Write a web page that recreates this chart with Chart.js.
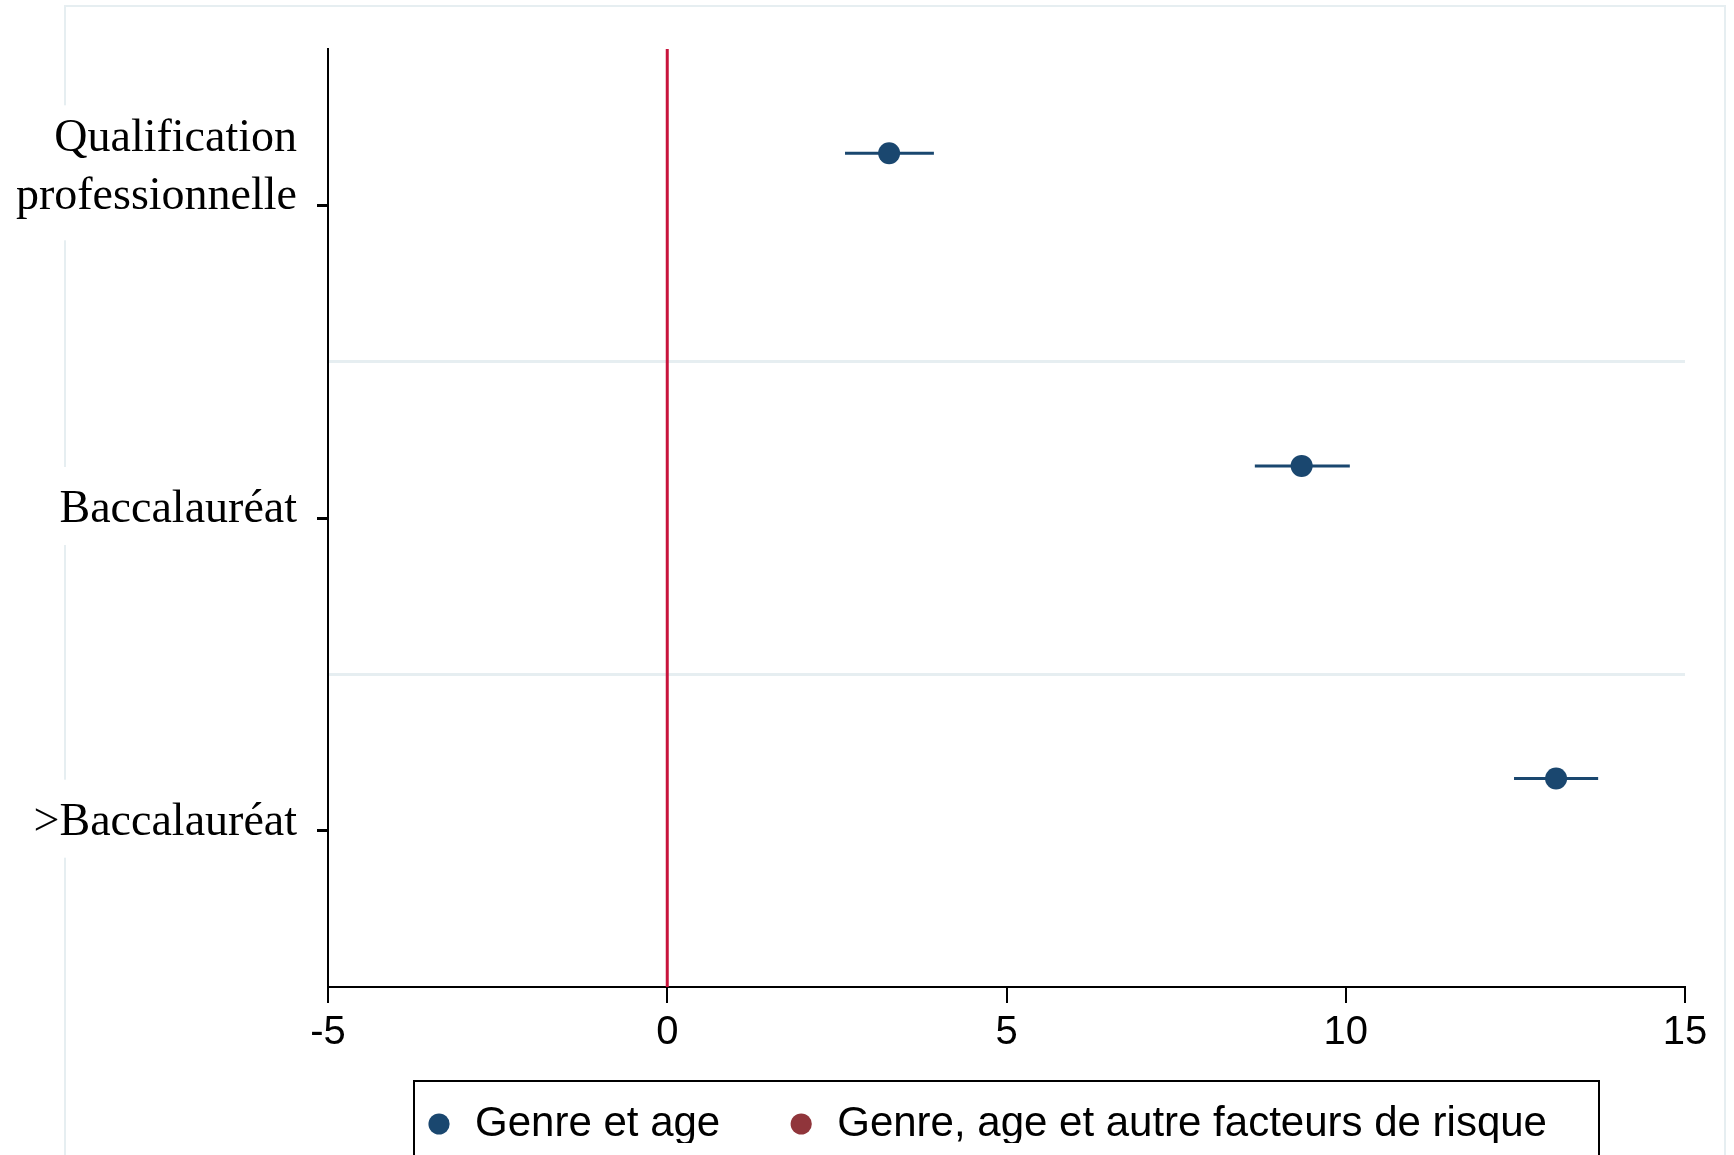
<!DOCTYPE html>
<html>
<head>
<meta charset="utf-8">
<script src="https://cdn.jsdelivr.net/npm/chart.js@4.4.0/dist/chart.umd.min.js"></script>
<style>
    html, body { margin: 0; padding: 0; background: #fff; }
    #chart { display: block; }
</style>
</head>
<body>
<canvas id="chart" width="1734" height="1155"></canvas>
<script>
// categories, top to bottom (arrays give multi-line labels)
const categories = [['Qualification', 'professionnelle', ''], ['Baccalauréat'], ['>Baccalauréat']];
const seriesNames = ['Genre et age', 'Genre, age et autre facteurs de risque'];

// model 1: genre et age
const estGenreAge = [3.27, 9.35, 13.10];
const lowGenreAge = [2.62, 8.66, 12.48];
const highGenreAge = [3.93, 10.06, 13.72];

// model 2: nothing plotted in the figure, only listed in the legend
const estAutres = [];

const xTicks = [-5, 0, 5, 10, 15];
const yTicks = [1, 1.5, 2, 2.5, 3];
const refValue = 0;
const modelShift = [-1 / 6, 1 / 6];

const navy = '#1a476f';
const maroon = '#90353b';
const crimson = '#c8143c';
const frameColor = '#e6eef1';

const datasets = [];

// zero reference line
datasets.push({
    label: 'ref',
    data: [{ x: refValue, y: 0.5 }, { x: refValue, y: 3.5 }],
    showLine: true,
    borderColor: crimson,
    borderWidth: 3,
    pointRadius: 0,
    order: 3
});

// confidence intervals
estGenreAge.forEach((v, i) => {
    const y = i + 1 + modelShift[0];
    datasets.push({
        label: 'ci' + i,
        data: [{ x: lowGenreAge[i], y }, { x: highGenreAge[i], y }],
        showLine: true,
        borderColor: navy,
        borderWidth: 3,
        pointRadius: 0,
        order: 2
    });
});

datasets.push({
    label: seriesNames[0],
    data: estGenreAge.map((v, i) => ({ x: v, y: i + 1 + modelShift[0] })),
    backgroundColor: navy,
    borderColor: navy,
    borderWidth: 0,
    pointRadius: 11,
    pointStyle: 'circle',
    order: 1
});

datasets.push({
    label: seriesNames[1],
    data: estAutres.map((v, i) => ({ x: v, y: i + 1 + modelShift[1] })),
    backgroundColor: maroon,
    borderColor: maroon,
    borderWidth: 0,
    pointRadius: 11,
    pointStyle: 'circle',
    order: 1
});

const isCat = (v) => Number.isInteger(v);

const frames = {
    id: 'frames',
    afterLayout(chart) {
        // nudge the legend row as in the original
        chart.legend.left -= 21;
        chart.legend.right -= 21;
        chart.legend.top -= 12;
        chart.legend.bottom -= 12;
    },
    beforeDraw(chart) {
        const ctx = chart.ctx;
        const y = chart.scales.y;
        ctx.save();
        ctx.strokeStyle = frameColor;
        ctx.lineWidth = 2;
        ctx.strokeRect(65, 6, 1660, 1300);
        // white gaps in the frame behind the category labels
        ctx.fillStyle = '#fff';
        categories.forEach((lab, i) => {
            const p = y.getPixelForValue(i + 1);
            if (lab.length > 1) ctx.fillRect(55, p - 100, 20, 135);
            else ctx.fillRect(55, p - 51, 20, 78);
        });
        ctx.restore();
    },
    afterDraw(chart) {
        const { ctx, chartArea, legend } = chart;
        ctx.save();
        ctx.strokeStyle = '#000';
        ctx.lineWidth = 2;
        ctx.strokeRect(chartArea.left + 86, legend.top + 44, chartArea.width - 172, 300);
        ctx.restore();
    }
};

new Chart(document.getElementById('chart'), {
    type: 'scatter',
    data: { datasets },
    plugins: [frames],
    options: {
        responsive: false,
        animation: false,
        layout: { padding: { top: 49, right: 49, bottom: 0, left: 0 } },
        plugins: {
            tooltip: { enabled: false },
            legend: {
                position: 'bottom',
                fullSize: false,
                maxHeight: 106,
                labels: {
                    usePointStyle: true,
                    boxWidth: 30,
                    boxHeight: 15,
                    padding: 66,
                    color: '#000',
                    font: { family: 'Liberation Sans', size: 42 },
                    filter: (item) => seriesNames.includes(item.text)
                }
            }
        },
        scales: {
            x: {
                type: 'linear',
                min: -5,
                max: 15,
                afterBuildTicks: (scale) => { scale.ticks = xTicks.map((v) => ({ value: v })); },
                afterFit: (scale) => { scale.height = 62; },
                grid: { drawOnChartArea: false, tickLength: 16, tickColor: '#000', lineWidth: 2 },
                border: { color: '#000', width: 2 },
                ticks: {
                    color: '#000',
                    padding: 6,
                    maxRotation: 0,
                    font: { family: 'Liberation Sans', size: 40, lineHeight: 1.2 }
                }
            },
            y: {
                type: 'linear',
                reverse: true,
                min: 0.5,
                max: 3.5,
                afterBuildTicks: (scale) => { scale.ticks = yTicks.map((v) => ({ value: v })); },
                afterFit: (scale) => {
                    scale.width = 328;
                    scale.paddingTop = 0;
                    scale.paddingBottom = 0;
                },
                grid: {
                    color: (c) => (c.tick && !isCat(c.tick.value) ? frameColor : 'rgba(0,0,0,0)'),
                    tickColor: (c) => (c.tick && isCat(c.tick.value) ? '#000' : 'rgba(0,0,0,0)'),
                    lineWidth: 3,
                    tickLength: 11
                },
                border: { color: '#000', width: 2 },
                ticks: {
                    color: '#000',
                    padding: 20,
                    labelOffset: -8,
                    autoSkip: false,
                    font: { family: 'Liberation Serif', size: 46, lineHeight: 1.26 },
                    callback: (v) => (isCat(v) ? categories[v - 1] : '')
                }
            }
        }
    }
});
</script>
</body>
</html>
